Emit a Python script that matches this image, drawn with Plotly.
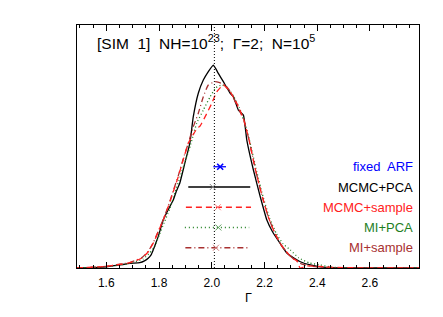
import plotly.graph_objects as go

# ---- density curves (Gamma vs normalized density) ----
black_x = [1.489, 1.55, 1.60, 1.65, 1.69, 1.727, 1.745, 1.759, 1.770, 1.778, 1.787, 1.797, 1.806, 1.816, 1.830,
           1.841, 1.854, 1.866, 1.879, 1.898, 1.917, 1.930, 1.949, 1.968, 1.987, 2.006, 2.015, 2.025, 2.044,
           2.070, 2.082, 2.101, 2.120, 2.133, 2.158, 2.184, 2.209, 2.230, 2.260, 2.285, 2.310, 2.336, 2.374,
           2.412, 2.45, 2.50, 2.60, 2.786]
black_y = [0.0, 0.002, 0.006, 0.015, 0.023, 0.026, 0.035, 0.048, 0.065, 0.089, 0.12, 0.155, 0.195, 0.237, 0.275,
           0.303, 0.336, 0.38, 0.42, 0.518, 0.617, 0.747, 0.863, 0.928, 0.97, 1.002, 0.985, 0.961, 0.92,
           0.863, 0.846, 0.78, 0.755, 0.632, 0.484, 0.352, 0.237, 0.18, 0.12, 0.074, 0.05, 0.031, 0.015,
           0.006, 0.002, 0.0, 0.0, 0.0]

red_x = [1.489, 1.55, 1.60, 1.639, 1.689, 1.734, 1.759, 1.778, 1.797, 1.816, 1.835, 1.855, 1.873, 1.892, 1.911,
         1.930, 1.945, 1.955, 1.962, 1.980, 2.000, 2.019, 2.044, 2.070, 2.095, 2.120, 2.140, 2.165, 2.190,
         2.215, 2.240, 2.265, 2.290, 2.310, 2.323, 2.335, 2.36, 2.40, 2.45, 2.50, 2.60, 2.786]
red_y = [0.0, 0.004, 0.008, 0.015, 0.026, 0.048, 0.080, 0.122, 0.179, 0.237, 0.303, 0.38, 0.451, 0.535, 0.616,
         0.66, 0.69, 0.70, 0.715, 0.76, 0.813, 0.87, 0.904, 0.87, 0.813, 0.739, 0.64, 0.49, 0.36,
         0.25, 0.17, 0.11, 0.07, 0.045, 0.036, 0.0, 0.01, 0.008, 0.004, 0.002, 0.0, 0.0]

brown_x = [1.489, 1.55, 1.60, 1.639, 1.689, 1.734, 1.759, 1.778, 1.797, 1.816, 1.835, 1.855, 1.873, 1.892, 1.911,
           1.930, 1.949, 1.968, 1.987, 2.013, 2.030, 2.051, 2.075, 2.100, 2.120, 2.140, 2.165, 2.190, 2.215,
           2.240, 2.265, 2.290, 2.315, 2.34, 2.37, 2.40, 2.45, 2.50, 2.786]
brown_y = [0.0, 0.004, 0.008, 0.016, 0.027, 0.05, 0.082, 0.125, 0.18, 0.24, 0.305, 0.385, 0.455, 0.54, 0.616,
           0.698, 0.764, 0.846, 0.904, 0.92, 0.915, 0.904, 0.86, 0.79, 0.735, 0.64, 0.49, 0.36, 0.25,
           0.17, 0.11, 0.07, 0.04, 0.02, 0.01, 0.005, 0.002, 0.0, 0.0]

green_x = [1.489, 1.55, 1.60, 1.65, 1.70, 1.74, 1.765, 1.785, 1.80, 1.82, 1.84, 1.86, 1.88, 1.90, 1.92, 1.943,
           1.968, 1.994, 2.015, 2.038, 2.06, 2.082, 2.105, 2.125, 2.145, 2.17, 2.195, 2.22, 2.245, 2.27, 2.298,
           2.33, 2.37, 2.412, 2.45, 2.50, 2.786]
green_y = [0.0, 0.003, 0.007, 0.014, 0.026, 0.045, 0.075, 0.11, 0.16, 0.225, 0.29, 0.37, 0.45, 0.53, 0.61, 0.715,
           0.78, 0.846, 0.89, 0.904, 0.89, 0.85, 0.79, 0.72, 0.62, 0.48, 0.35, 0.245, 0.17, 0.12, 0.089,
           0.05, 0.025, 0.015, 0.005, 0.0, 0.0]

# ---- interval summaries ----
labels = ["fixed\u00a0 ARF", "MCMC+PCA", "MCMC+sample", "MI+PCA", "MI+sample"]
centers = [2.032, 2.004, 2.023, 2.025, 2.016]
lows = [2.006, 1.911, 1.902, 1.898, 1.900]
highs = [2.054, 2.146, 2.149, 2.142, 2.142]
levels = [0.5, 0.4, 0.3, 0.2, 0.1]

true_gamma = 2.01
x_range = [1.489, 2.786]
y_range = [0.0, 1.2]
tick_vals = [1.6, 1.8, 2.0, 2.2, 2.4, 2.6]
tick_text = ["1.6", "1.8", "2.0", "2.2", "2.4", "2.6"]

colors = ["#0000ff", "#000000", "#ff2020", "#1f7f1f", "#a83030"]
marker_colors = ["#0000ff", "#888888", "#ff8080", "#60a060", "#d08080"]
dashes = ["solid", "solid", "6px,4px", "1px,3px", "6px,3px,1px,3px"]

FONT = "Liberation Sans, Arial, Helvetica, sans-serif"
NB = "\u00a0"

fig = go.Figure()

curves = [(black_x, black_y, colors[1], "solid"),
          (green_x, green_y, colors[3], "1px,2.5px"),
          (brown_x, brown_y, colors[4], "6px,3px,1px,3px"),
          (red_x, red_y, colors[2], "6px,4px")]
for cx, cy, col, dsh in curves:
    fig.add_trace(go.Scatter(x=cx, y=cy, mode="lines",
                             line=dict(color=col, width=1.3, dash=dsh, shape="spline", smoothing=0.4),
                             showlegend=False, hoverinfo="skip"))

fig.add_trace(go.Scatter(x=[true_gamma, true_gamma], y=y_range, mode="lines",
                         line=dict(color="black", width=1, dash="1px,2px"),
                         showlegend=False, hoverinfo="skip"))

for i in range(len(labels)):
    fig.add_trace(go.Scatter(x=[lows[i], highs[i]], y=[levels[i], levels[i]], mode="lines",
                             line=dict(color=colors[i], width=1.3 if i != 1 else 1.5, dash=dashes[i]),
                             showlegend=False, hoverinfo="skip"))
    fig.add_trace(go.Scatter(x=[centers[i]], y=[levels[i]], mode="markers",
                             marker=dict(symbol="x-thin", size=6,
                                         line=dict(color=marker_colors[i], width=1.6 if i == 0 else 1)),
                             showlegend=False, hoverinfo="skip"))
    fig.add_annotation(x=2.772, y=levels[i], xref="x", yref="y", text=labels[i], showarrow=False,
                       xanchor="right", yanchor="middle",
                       font=dict(family=FONT, size=13, color=colors[i]))

title_text = ("[SIM" + NB + NB + "1]" + NB + " NH=10<sup>23</sup>;" + NB + " Γ=2;" + NB + " N=10<sup>5</sup>")
fig.add_annotation(x=0.052, y=0.93, xref="paper", yref="paper", text=title_text,
                   showarrow=False, xanchor="left", yanchor="middle",
                   font=dict(family=FONT, size=15.5, color="black"))

# x-axis title
fig.add_annotation(x=0.5, y=0, xref="paper", yref="paper", text="Γ", showarrow=False,
                   xanchor="center", yanchor="middle", yshift=-30,
                   font=dict(family=FONT, size=12.5, color="black"))

fig.update_xaxes(range=x_range, tickvals=tick_vals, ticktext=tick_text,
                 ticks="inside", ticklen=6, tickwidth=1, tickcolor="black", ticklabelstandoff=4,
                 minor=dict(dtick=0.05, tick0=1.5, ticks="inside", ticklen=3, tickcolor="black", showgrid=False),
                 showline=True, linecolor="black", linewidth=1, mirror="ticks",
                 showgrid=False, zeroline=False, automargin=False,
                 tickfont=dict(family=FONT, size=12, color="black"))
fig.update_yaxes(range=y_range, showticklabels=False, ticks="",
                 showline=True, linecolor="black", linewidth=1, mirror=True,
                 showgrid=False, zeroline=False, automargin=False)

# page body has an 8px default margin; size the figure so the plot lands where the reference has it
fig.update_layout(template="none", width=435, height=309, margin=dict(l=69, r=24, t=17, b=49),
                  paper_bgcolor="white", plot_bgcolor="white", showlegend=False)

fig.write_html("out.html")
